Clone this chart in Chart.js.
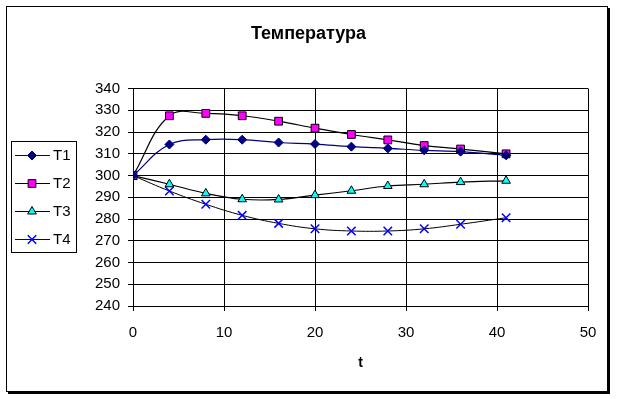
<!DOCTYPE html>
<html>
<head>
<meta charset="utf-8">
<script src="https://cdn.jsdelivr.net/npm/chart.js@4.4.0/dist/chart.umd.min.js"></script>
<style>
  html, body { margin: 0; padding: 0; background: #fff; }
</style>
</head>
<body>
<canvas id="chart" width="617" height="399"></canvas>
<script>
// time points (x) and temperatures for each series
const times = [0, 4, 8, 12, 16, 20, 24, 28, 32, 36, 41];
const t1 = [300, 314.3, 316.5, 316.5, 315.2, 314.5, 313.3, 312.5, 311.6, 311, 309.3];
const t2 = [300, 327.5, 328.6, 327.5, 325, 321.8, 318.9, 316.4, 313.8, 312.2, 310];
const t3 = [300, 296, 291.8, 289.1, 289, 291, 293, 295.2, 296, 297, 297.6];
const t4 = [300, 292.9, 286.8, 281.7, 278, 275.5, 274.5, 274.5, 275.5, 277.6, 280.6];
const seriesNames = ['T1', 'T2', 'T3', 'T4'];
const xRange = [0, 50];
const yRange = [240, 340];
const tickStep = 10;

const FONT = "'Liberation Sans', Arial, sans-serif";
Chart.defaults.font.family = FONT;
Chart.defaults.color = '#000';

const toPoints = arr => arr.map((v, i) => ({ x: times[i], y: v }));

// outer frame with a little shadow, like the spreadsheet chart
const framePlugin = {
  id: 'frame',
  beforeDraw(chart) {
    const ctx = chart.ctx;
    ctx.save();
    ctx.fillStyle = '#fff';
    ctx.fillRect(0, 0, chart.width, chart.height);
    ctx.strokeStyle = '#000';
    ctx.lineWidth = 1;
    ctx.strokeRect(6.5, 6.5, 601, 385);
    ctx.lineWidth = 2;
    ctx.beginPath();
    ctx.moveTo(609, 8);
    ctx.lineTo(609, 393);
    ctx.lineTo(8, 393);
    ctx.stroke();
    ctx.restore();
  }
};

// boxed legend on the left
const boxLegend = {
  id: 'boxLegend',
  afterDraw(chart) {
    const ctx = chart.ctx;
    ctx.save();
    ctx.strokeStyle = '#000';
    ctx.lineWidth = 1;
    ctx.strokeRect(11.5, 141.5, 65, 111);
    chart.data.datasets.forEach((ds, i) => {
      const y = 155 + i * 28;
      ctx.strokeStyle = ds.legendLine || ds.borderColor;
      ctx.lineWidth = 1;
      ctx.beginPath();
      ctx.moveTo(15, y + 0.5);
      ctx.lineTo(50, y + 0.5);
      ctx.stroke();
      ctx.fillStyle = ds.pointBackgroundColor;
      ctx.strokeStyle = ds.pointBorderColor;
      ctx.lineWidth = ds.pointBorderWidth;
      Chart.helpers.drawPoint(ctx, {
        pointStyle: ds.pointStyle,
        radius: ds.pointRadius,
        borderWidth: ds.pointBorderWidth,
        rotation: 0
      }, 32, y + 0.5);
      ctx.fillStyle = '#000';
      ctx.font = '15px ' + FONT;
      ctx.textBaseline = 'middle';
      ctx.textAlign = 'left';
      ctx.fillText(ds.label, 53, y + 1);
    });
    ctx.restore();
  }
};

new Chart(document.getElementById('chart'), {
  type: 'line',
  data: {
    datasets: [
      {
        label: seriesNames[0],
        data: toPoints(t1),
        borderColor: '#000080',
        borderWidth: 1.2,
        pointStyle: 'rectRot',
        pointRadius: 4.5,
        pointBackgroundColor: '#000080',
        pointBorderColor: '#000080',
        pointBorderWidth: 1
      },
      {
        label: seriesNames[1],
        data: toPoints(t2),
        borderColor: '#000',
        borderWidth: 1.2,
        pointStyle: 'rect',
        pointRadius: 5.5,
        pointBackgroundColor: '#ff00ff',
        pointBorderColor: '#000',
        pointBorderWidth: 1
      },
      {
        label: seriesNames[2],
        data: toPoints(t3),
        borderColor: '#000',
        borderWidth: 1.2,
        pointStyle: 'triangle',
        pointRadius: 5,
        pointBackgroundColor: '#00ffff',
        pointBorderColor: '#000',
        pointBorderWidth: 1
      },
      {
        label: seriesNames[3],
        data: toPoints(t4),
        borderColor: '#000',
        legendLine: '#000080',
        borderWidth: 1,
        pointStyle: 'crossRot',
        pointRadius: 6,
        pointBackgroundColor: '#0000ff',
        pointBorderColor: '#0000ff',
        pointBorderWidth: 1.5
      }
    ]
  },
  options: {
    responsive: false,
    animation: false,
    devicePixelRatio: 1,
    layout: { padding: { left: 29, right: 29, top: 0, bottom: 20 } },
    elements: { line: { tension: 0.4, fill: false } },
    plugins: {
      legend: { display: false },
      tooltip: { enabled: false },
      title: {
        display: true,
        text: 'Температура',
        color: '#000',
        font: { size: 18, weight: 'bold', family: FONT },
        padding: { top: 23, bottom: 44 }
      }
    },
    scales: {
      x: {
        type: 'linear',
        min: xRange[0],
        max: xRange[1],
        ticks: { stepSize: tickStep, color: '#000', font: { size: 15 }, padding: 13, maxRotation: 0 },
        grid: { color: '#000', lineWidth: 1, tickLength: 5 },
        border: { color: '#000', width: 1 },
        title: { display: true, text: 't', color: '#000', font: { size: 14, weight: 'bold' }, padding: { top: 4, bottom: 7 } },
        afterFit(scale) { scale.height = 73; }
      },
      y: {
        min: yRange[0],
        max: yRange[1],
        ticks: { stepSize: tickStep, color: '#000', font: { size: 15 }, padding: 8 },
        grid: { color: '#000', lineWidth: 1, tickLength: 5 },
        border: { color: '#000', width: 1 },
        afterFit(scale) { scale.width = 104; }
      }
    }
  },
  plugins: [framePlugin, boxLegend]
});
</script>
</body>
</html>
